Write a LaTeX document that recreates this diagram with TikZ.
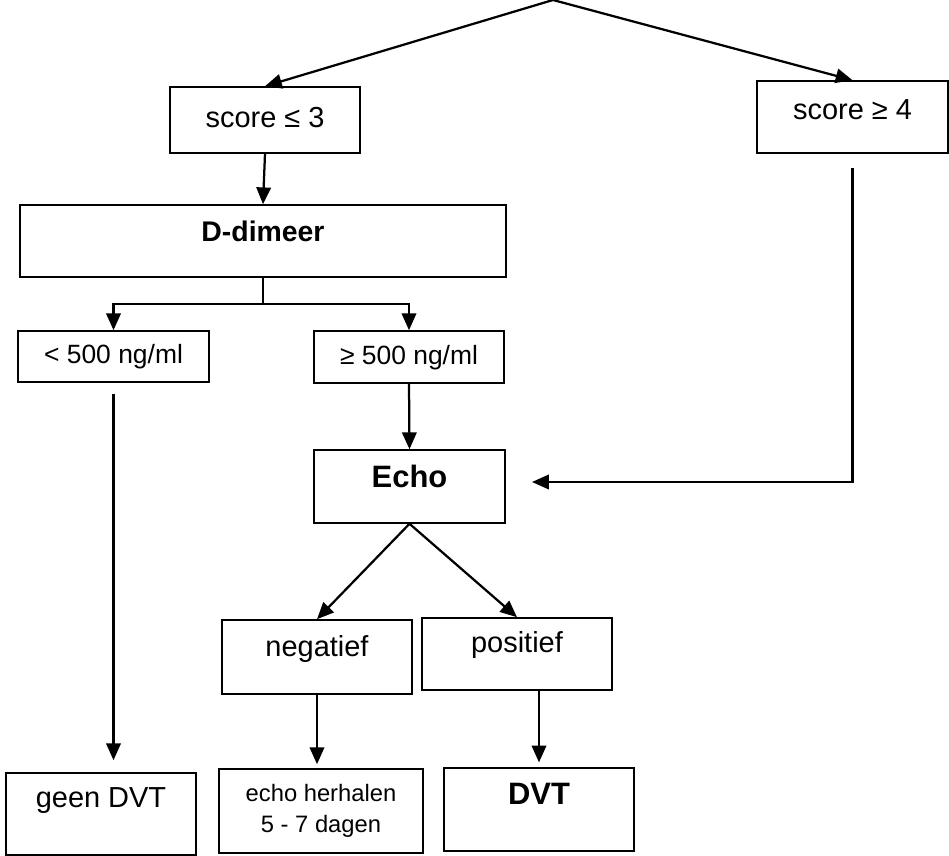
\documentclass[tikz,border=0pt]{standalone}
\usepackage{fontspec}
\setmainfont{Liberation Sans}
\usetikzlibrary{arrows.meta, calc}
\tikzset{boxbase/.style={rectangle, draw=black, line width=1.1pt, inner sep=2pt, font=\fontsize{20.6}{24}\selectfont},
    box/.style={boxbase, text height=0.52cm, text depth=0.15cm},
    txtup/.style={text depth=#1},
    sz/.style 2 args={minimum width=#1cm, minimum height=#2cm},
    small/.style={font=\fontsize{18.8}{22}\selectfont},
    heavy/.style={font=\fontsize{22}{26}\selectfont\bfseries},
    conn/.style={line width=1.6pt, -{Triangle[length=0.42cm, width=0.36cm]}},
}

\begin{document}
\begin{tikzpicture}
                 \useasboundingbox (0,0) rectangle (23.725,-21.4);

                 \coordinate (top) at (13.825,0);
                 \coordinate (echoin) at (13.3,-12.05);

                 % score boxes
                 \node[box, sz={4.75}{1.65}] (le3) at (6.625,-3.0) {score ≤ 3};
                 \node[box, sz={4.775}{1.8}, txtup=0.4cm] (ge4) at (21.3125,-2.925) {score ≥ 4};

                 \node[box, sz={12.15}{1.8}, txtup=0.5cm, font=\fontsize{20.2}{24}\selectfont\bfseries] (dimeer) at (6.575,-6.025) {D-dimeer};

                 \node[box, small, sz={4.775}{1.275}] (lt) at (2.8375,-8.9125) {< 500 ng/ml};
                 \node[box, small, sz={4.75}{1.3}] (geq) at (10.225,-8.925) {≥ 500 ng/ml};

                 \node[box, heavy, sz={4.775}{1.825}, txtup=0.45cm] (echo) at (10.2375,-12.1625) {Echo};

                 \node[box, sz={4.75}{1.85}, txtup=0.57cm] (neg) at (7.925,-16.425) {negatief};
                 \node[box, sz={4.75}{1.8}, txtup=0.6cm] (pos) at (12.925,-16.35) {positief};

                 % bottom row
                 \node[box, sz={4.75}{2.05}, txtup=0.85cm] (geen) at (2.525,-20.35) {geen DVT};
                 \node[boxbase, sz={5.1}{2.1}, align=center, font=\fontsize{16.9}{22}\selectfont] (herh) at (8.025,-20.275) {echo herhalen\\5 - 7 dagen};
                 \node[box, heavy, sz={4.75}{2.075}, txtup=0.75cm] (dvt) at (13.475,-20.2375) {DVT};

                 \draw[conn] (top) -- (le3.north);
                 \draw[conn] (top) -- (ge4.north);
                 \draw[conn] (le3.south) -- (dimeer.north);

                 \draw[conn] (dimeer.south) -- ++(0,-0.65) -| (lt.north);
                 \draw[conn] (dimeer.south) -- ++(0,-0.65) -| (geq.north);

                 \draw[conn] (geq.south) -- (echo.north);
                 \draw[conn, shorten >=0.3cm] ([yshift=-0.275cm]lt.south) -- (lt.south |- geen.north);
                 \draw[conn] ([yshift=-0.35cm]ge4.south) |- (echoin);

                 \draw[conn] (echo.south) -- (neg.north);
                 \draw[conn] (echo.south) -- (pos.north);

                 \draw[conn, shorten >=0.1cm] (neg.south) -- (neg.south |- herh.north);
                 \draw[conn, shorten >=0.12cm] (dvt.north |- pos.south) -- (dvt.north);

\end{tikzpicture}
\end{document}
